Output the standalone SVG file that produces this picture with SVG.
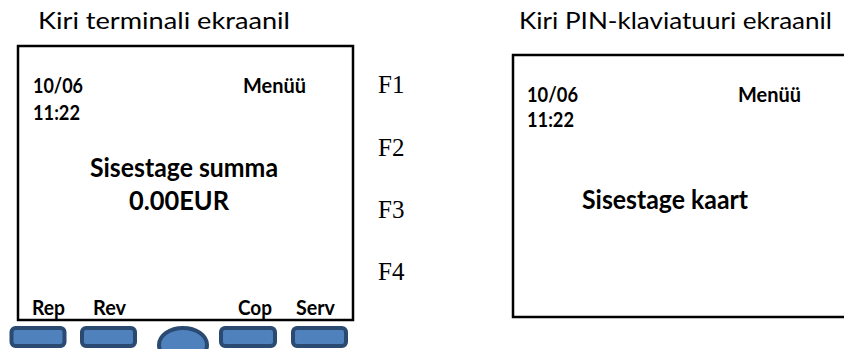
<svg xmlns="http://www.w3.org/2000/svg" width="844" height="349" viewBox="0 0 844 349">
<style>
.title{font-family:Lato,"Open Sans","Liberation Sans",sans-serif;font-size:24px;fill:#000}
.b{font-family:Lato,"Open Sans","Liberation Sans",sans-serif;font-weight:bold;font-size:21px;fill:#000}
.big{font-family:Lato,"Open Sans","Liberation Sans",sans-serif;font-weight:bold;font-size:27px;fill:#000}
.lbl{font-family:Lato,"Open Sans","Liberation Sans",sans-serif;font-weight:bold;font-size:20px;fill:#000}
.f{font-family:"Liberation Serif","Times New Roman",serif;font-size:25px;fill:#000}
.screen{fill:#fff;stroke:#000;stroke-width:2.5}
.btn{fill:#4F81BD;stroke:#2A4A72;stroke-width:4}
</style>
<rect width="844" height="349" fill="#fff"/>
<g id="title-left"><text class="title" x="38" y="29" textLength="252" lengthAdjust="spacingAndGlyphs">Kiri terminali ekraanil</text></g>
<g id="title-right"><text class="title" x="519" y="29" textLength="313" lengthAdjust="spacingAndGlyphs">Kiri PIN-klaviatuuri ekraanil</text></g>
<g id="terminal-screen">
<rect class="screen" x="18" y="46" width="335" height="274"/>
<text class="b" x="33" y="93" textLength="50" lengthAdjust="spacingAndGlyphs">10/06</text>
<text class="b" x="33" y="120" textLength="47" lengthAdjust="spacingAndGlyphs">11:22</text>
<text class="b" x="243" y="93" textLength="63" lengthAdjust="spacingAndGlyphs">Menüü</text>
<text class="big" x="90" y="177" textLength="188" lengthAdjust="spacingAndGlyphs">Sisestage summa</text>
<text class="big" x="129" y="210" textLength="100" lengthAdjust="spacingAndGlyphs">0.00EUR</text>
<text class="lbl" x="32" y="315" textLength="33" lengthAdjust="spacingAndGlyphs">Rep</text>
<text class="lbl" x="93" y="315" textLength="33" lengthAdjust="spacingAndGlyphs">Rev</text>
<text class="lbl" x="238" y="315" textLength="34" lengthAdjust="spacingAndGlyphs">Cop</text>
<text class="lbl" x="296" y="315" textLength="39" lengthAdjust="spacingAndGlyphs">Serv</text>
</g>
<g id="function-keys">
<text class="f" x="378" y="93">F1</text>
<text class="f" x="378" y="156">F2</text>
<text class="f" x="378" y="218">F3</text>
<text class="f" x="378" y="280">F4</text>
</g>
<g id="buttons">
<rect class="btn" x="11.5" y="328" width="53" height="18" rx="4"/>
<rect class="btn" x="82" y="328" width="53" height="18" rx="4"/>
<ellipse class="btn" cx="183" cy="345" rx="24" ry="17"/>
<rect class="btn" x="221" y="328" width="54" height="18" rx="4"/>
<rect class="btn" x="293" y="328" width="53" height="18" rx="4"/>
</g>
<g id="pin-screen">
<rect class="screen" x="513" y="55" width="340" height="262"/>
<text class="b" x="527" y="102" textLength="51" lengthAdjust="spacingAndGlyphs">10/06</text>
<text class="b" x="527" y="127" textLength="47" lengthAdjust="spacingAndGlyphs">11:22</text>
<text class="b" x="738" y="102" textLength="63" lengthAdjust="spacingAndGlyphs">Menüü</text>
<text class="big" x="582" y="209" textLength="166" lengthAdjust="spacingAndGlyphs">Sisestage kaart</text>
</g>
<g id="connectors"></g>
</svg>
